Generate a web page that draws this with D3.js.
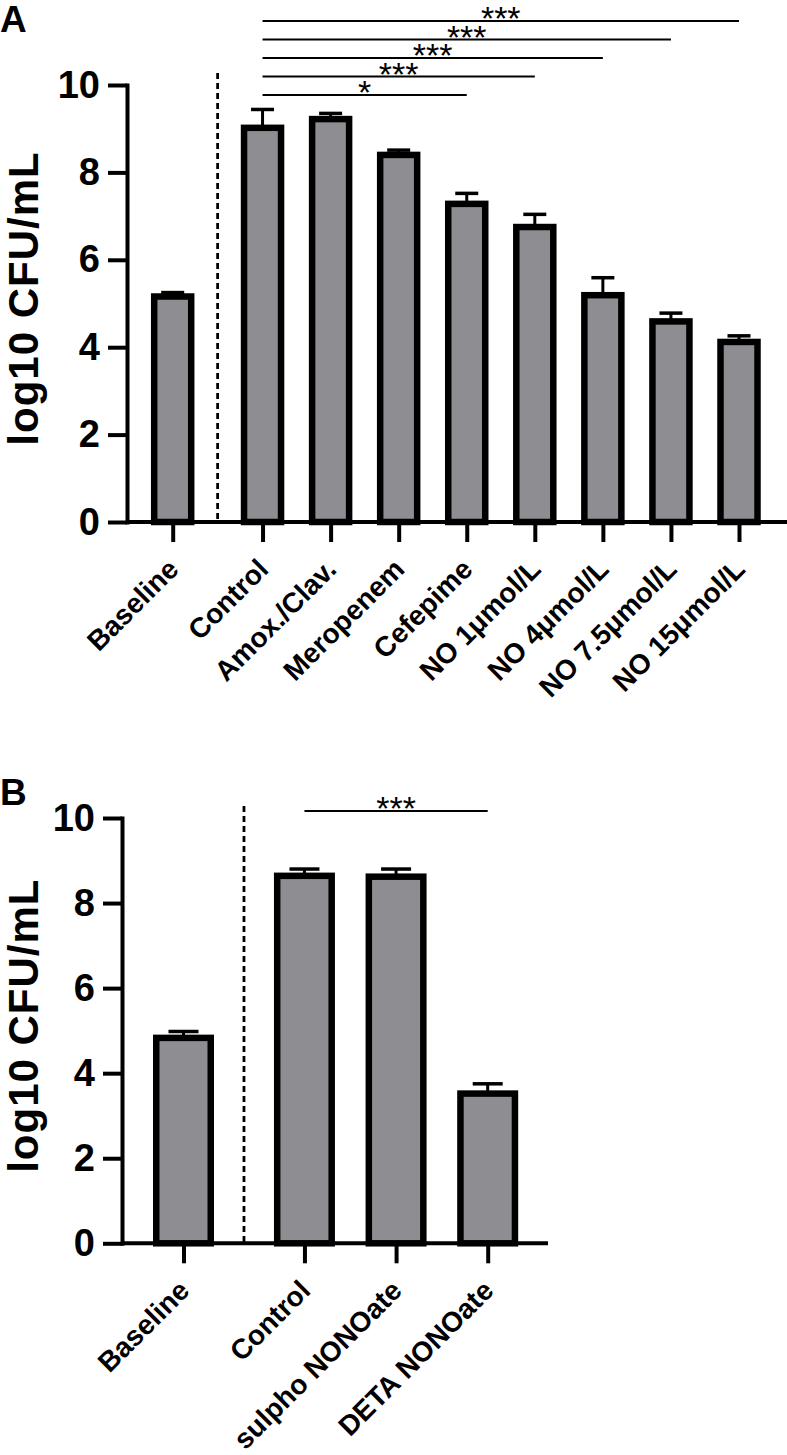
<!DOCTYPE html>
<html>
<head>
<meta charset="utf-8">
<script src="https://cdn.jsdelivr.net/npm/d3@7/dist/d3.min.js"></script>
<style>
  html, body { margin: 0; padding: 0; background: #fff; }
  svg { display: block; }
  text { font-family: "Liberation Sans", Arial, Helvetica, sans-serif; }
</style>
</head>
<body>
<svg id="chart" width="787" height="1455"></svg>
<script>
// ---------- DATA ----------
const yTicks = [0, 2, 4, 6, 8, 10];
const yTitle = "log10 CFU/mL";

const categoriesA = ["Baseline", "Control", "Amox./Clav.", "Meropenem", "Cefepime",
  "NO 1μmol/L", "NO 4μmol/L", "NO 7.5μmol/L", "NO 15μmol/L"];
const meanA = [5.16, 9.02, 9.22, 8.40, 7.28, 6.75, 5.19, 4.59, 4.12];
const semA  = [0.09, 0.42, 0.13, 0.11, 0.24, 0.29, 0.40, 0.19, 0.14];
const sigFromA  = ["Control", "Control", "Control", "Control", "Control"];
const sigToA    = ["Cefepime", "NO 1μmol/L", "NO 4μmol/L", "NO 7.5μmol/L", "NO 15μmol/L"];
const sigLabelA = ["*", "***", "***", "***", "***"];

const categoriesB = ["Baseline", "Control", "sulpho NONOate", "DETA NONOate"];
const meanB = [4.83, 8.64, 8.62, 3.52];
const semB  = [0.15, 0.16, 0.18, 0.23];
const sigFromB  = ["Control"];
const sigToB    = ["DETA NONOate"];
const sigLabelB = ["***"];

// ---------- LAYOUT ----------
const svg = d3.select("#chart");
const FILL = "#8e8d92";
const GAP = 0.32; // extra spacing after the baseline group

function slotOf(i) { return i === 0 ? 0 : i + GAP; }

function drawPanel(cfg) {
  const g = svg.append("g");
  const n = cfg.cats.length;
  const y = d3.scaleLinear().domain([0, 10]).range([cfg.yBottom, cfg.yTop]);
  const x = d3.scaleLinear().domain([0, n - 1 + GAP]).range([cfg.xFirst, cfg.xLast]);
  const cx = name => x(slotOf(cfg.cats.indexOf(name)));

  // panel letter
  g.append("text").attr("x", 0).attr("y", cfg.letterY)
    .attr("font-size", 37).attr("font-weight", "bold").text(cfg.letter);

  // y axis
  const yAxis = d3.axisLeft(y).tickValues(yTicks).tickSize(19).tickSizeOuter(0).tickPadding(8);
  const ya = g.append("g").attr("transform", `translate(${cfg.axisX},0)`).call(yAxis);
  ya.select(".domain").attr("stroke", "#000").attr("stroke-width", 4).attr("stroke-linecap", "square");
  ya.selectAll(".tick line").attr("stroke", "#000").attr("stroke-width", 4);
  ya.selectAll(".tick text").attr("font-size", 38).attr("font-weight", "bold")
    .attr("fill", "#000").attr("font-family", null);

  // y title
  g.append("text")
    .attr("transform", `translate(${cfg.titleX},${(cfg.yTop + cfg.yBottom) / 2 - 5}) rotate(-90)`)
    .attr("text-anchor", "middle").attr("font-size", 42).attr("font-weight", "bold")
    .attr("letter-spacing", 1)
    .text(yTitle);

  // dashed separator
  g.append("line")
    .attr("x1", x((0 + 1 + GAP) / 2)).attr("x2", x((0 + 1 + GAP) / 2))
    .attr("y1", cfg.yTop - 12).attr("y2", cfg.yBottom)
    .attr("stroke", "#000").attr("stroke-width", 2.8).attr("stroke-dasharray", "6,4");

  // error bars
  const eb = g.append("g");
  cfg.cats.forEach((c, i) => {
    const xc = x(slotOf(i));
    eb.append("line").attr("x1", xc).attr("x2", xc)
      .attr("y1", y(cfg.mean[i])).attr("y2", y(cfg.mean[i] + cfg.sem[i]))
      .attr("stroke", "#000").attr("stroke-width", 3);
    eb.append("line").attr("x1", xc - cfg.capW / 2).attr("x2", xc + cfg.capW / 2)
      .attr("y1", y(cfg.mean[i] + cfg.sem[i])).attr("y2", y(cfg.mean[i] + cfg.sem[i]))
      .attr("stroke", "#000").attr("stroke-width", 3.5);
  });

  // bars
  g.append("g").selectAll("rect").data(cfg.cats).join("rect")
    .attr("x", (d, i) => x(slotOf(i)) - cfg.barW / 2)
    .attr("y", (d, i) => y(cfg.mean[i]))
    .attr("width", cfg.barW)
    .attr("height", (d, i) => y(0) - y(cfg.mean[i]))
    .attr("fill", FILL).attr("stroke", "#000").attr("stroke-width", 6.5);

  // x axis
  const xAxis = d3.axisBottom(x).tickValues(cfg.cats.map((c, i) => slotOf(i)))
    .tickFormat((d, i) => cfg.cats[i]).tickSize(20).tickSizeOuter(0);
  const xa = g.append("g").attr("transform", `translate(0,${cfg.yBottom})`).call(xAxis);
  xa.select(".domain").remove();
  xa.selectAll(".tick line").attr("stroke", "#000").attr("stroke-width", 4);
  xa.selectAll(".tick text")
    .attr("font-size", 28).attr("font-weight", "bold").attr("fill", "#000").attr("font-family", null)
    .attr("text-anchor", "end").attr("x", 0).attr("y", 0).attr("dy", 0)
    .attr("transform", `translate(${cfg.labelDx},${cfg.labelDy}) rotate(-45)`);
  g.append("line").attr("x1", cfg.axisX).attr("x2", cfg.xAxisEnd)
    .attr("y1", cfg.yBottom).attr("y2", cfg.yBottom)
    .attr("stroke", "#000").attr("stroke-width", 4);

  // significance lines
  const sg = g.append("g");
  cfg.sigTo.forEach((to, k) => {
    const x1 = cx(cfg.sigFrom[k]), x2 = cx(to);
    const ly = y(10) + cfg.sigOffset - k * cfg.sigStep;
    sg.append("line").attr("x1", x1).attr("x2", x2).attr("y1", ly).attr("y2", ly)
      .attr("stroke", "#000").attr("stroke-width", 2);
    sg.append("text").attr("x", (x1 + x2) / 2).attr("y", ly + 9)
      .attr("text-anchor", "middle").attr("font-size", 34).text(cfg.sigLabel[k]);
  });
}

drawPanel({
  letter: "A", letterY: 32,
  cats: categoriesA, mean: meanA, sem: semA,
  sigFrom: sigFromA, sigTo: sigToA, sigLabel: sigLabelA,
  axisX: 127, yTop: 85, yBottom: 522, xFirst: 172.7, xLast: 739, xAxisEnd: 787,
  barW: 37, capW: 23, titleX: 38, labelDx: 7, labelDy: 49,
  sigOffset: 10, sigStep: 18.5
});

drawPanel({
  letter: "B", letterY: 805,
  cats: categoriesB, mean: meanB, sem: semB,
  sigFrom: sigFromB, sigTo: sigToB, sigLabel: sigLabelB,
  axisX: 122, yTop: 818, yBottom: 1243.3, xFirst: 183.5, xLast: 487.7, xAxisEnd: 548,
  barW: 54.5, capW: 30, titleX: 38, labelDx: 7, labelDy: 49,
  sigOffset: -7, sigStep: 18.5
});
</script>
</body>
</html>
